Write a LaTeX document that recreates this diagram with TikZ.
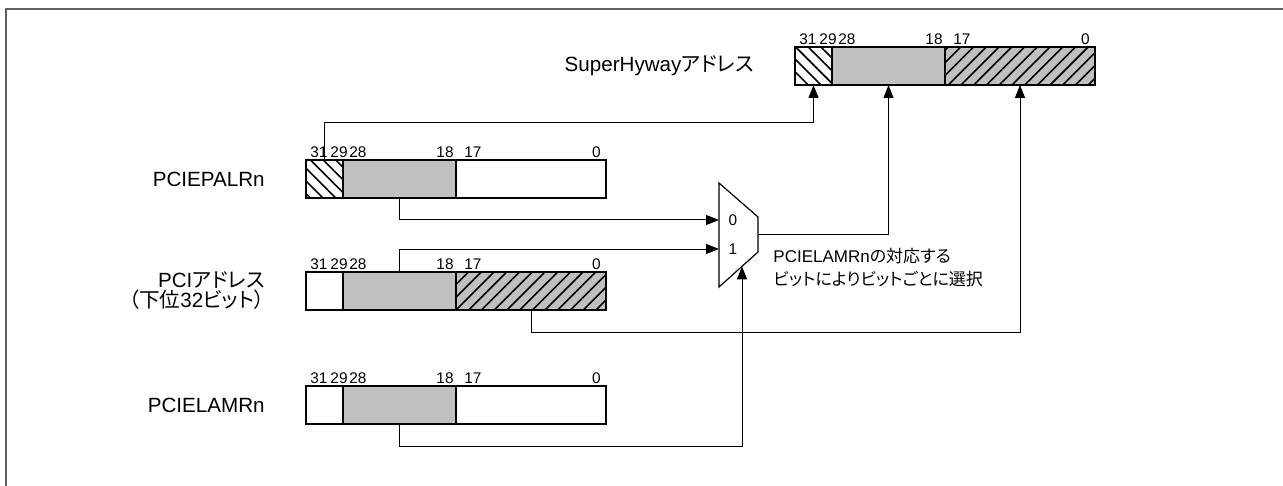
\documentclass[tikz,border=0pt]{standalone}
\usepackage{fontspec}
\setmainfont{Liberation Sans}
\newfontfamily\jpfont[RawFeature=+palt]{Noto Sans CJK JP}
\usetikzlibrary{arrows.meta,positioning,patterns.meta}
\definecolor{fieldgray}{RGB}{192,192,192}
\definecolor{framegray}{RGB}{96,96,96}
\newcommand{\jp}[1]{{\jpfont #1}}

\begin{document}
\begin{tikzpicture}[
  x=0.5pt, y=-0.5pt,
  node distance=0pt and 20.5pt,
  fld/.style   ={draw,line width=0.7pt,minimum height=19pt,inner sep=0pt,outer sep=0pt},
  hifld/.style ={fld,minimum width=18.5pt},
  midfld/.style={fld,minimum width=56.5pt,fill=fieldgray},
  lofld/.style ={fld,minimum width=75pt},
  bslash/.style={postaction={pattern={Lines[angle=-45,distance=4.5pt,line width=0.8pt]}}},
  fslash/.style={fill=fieldgray,postaction={pattern={Lines[angle=45,distance=4.5pt,line width=0.8pt]}}},
  bit/.style   ={font=\fontsize{7.7}{8}\selectfont,inner sep=1pt},
  regname/.style={font=\fontsize{10.3}{12}\selectfont,align=right,inner sep=0pt},
  note/.style  ={font=\fontsize{8.5}{11.5}\selectfont,align=left,inner sep=0pt},
  arrow/.style ={-{Triangle[length=6.5pt,width=5pt]},line width=0.5pt},
]
\useasboundingbox (0,0) rectangle (1283,486);
\draw[framegray,line width=1.2pt] (6,486) -- (6,9) -- (1283,9);

% registers
\node[hifld,bslash,anchor=north west] (sh-hi) at (795,47) {};
\node[midfld,right=0pt of sh-hi]  (sh-mid) {};
\node[lofld,fslash,right=0pt of sh-mid] (sh-lo) {};
\node[regname,left=of sh-hi]  (sh-name) {SuperHyway\jp{アドレス}};

\node[hifld,bslash,anchor=north west] (pal-hi) at (306,160) {};
\node[midfld,right=0pt of pal-hi] (pal-mid) {};
\node[lofld,right=0pt of pal-mid] (pal-lo) {};
\node[regname,left=of pal-hi] (pal-name) {PCIEPALRn};

\node[hifld,anchor=north west] (pci-hi) at (306,272) {};
\node[midfld,right=0pt of pci-hi] (pci-mid) {};
\node[lofld,fslash,right=0pt of pci-mid] (pci-lo) {};
\node[regname,left=of pci-hi] (pci-name) {PCI\jp{アドレス}\\[-2pt]\jp{（下位}32\jp{ビット）}};

\node[hifld,anchor=north west] (lam-hi) at (306,386) {};
\node[midfld,right=0pt of lam-hi] (lam-mid) {};
\node[lofld,right=0pt of lam-mid] (lam-lo) {};
\node[regname,left=of lam-hi] (lam-name) {PCIELAMRn};

% bit numbers
\foreach \r in {sh,pal,pci,lam}{
  \node[bit,anchor=south west] (\r-b31) at ([xshift=1pt]\r-hi.north west) {31};
  \node[bit,anchor=south]      (\r-b29) at ([xshift=-2pt]\r-hi.north east) {29};
  \node[bit,anchor=south west] (\r-b28) at ([xshift=2pt]\r-mid.north west) {28};
  \node[bit,anchor=south east] (\r-b18) at (\r-mid.north east) {18};
  \node[bit,anchor=south west] (\r-b17) at ([xshift=3pt]\r-lo.north west) {17};
  \node[bit,anchor=south east] (\r-b0)  at ([xshift=-1.5pt]\r-lo.north east) {0};
}

% selector
\coordinate (mux-tl) at (719,183);
\coordinate (mux-tr) at (758,217);
\coordinate (mux-br) at (758,252);
\coordinate (mux-bl) at (719,287);
\coordinate (mux-in0) at (719,220);
\coordinate (mux-in1) at (719,249);
\coordinate (mux-out) at (758,234.5);
\coordinate (mux-sel) at (742,266.4);
\draw[line width=0.6pt] (mux-tl) -- (mux-tr) -- (mux-br) -- (mux-bl) -- cycle;
\node[font=\fontsize{7.7}{9}\selectfont] (mux-l0) at (733,220) {0};
\node[font=\fontsize{7.7}{9}\selectfont] (mux-l1) at (733,249) {1};
\node[note,anchor=north west] (selnote) at (773,248)
  {PCIELAMRn\jp{の対応する}\\\jp{ビットによりビットごとに選択}};

% connections
\draw[arrow] (pal-hi.north) -- ++(0,-37) -| (sh-hi.south);
\draw[arrow] (pal-mid.south) |- (mux-in0);
\draw[arrow] (pci-mid.north) |- (mux-in1);
\draw[arrow] (mux-out) -| (sh-mid.south);
\draw[arrow] (pci-lo.south) -- ++(0,22) -| (sh-lo.south);
\draw[arrow] (lam-mid.south) -- ++(0,22) -| (mux-sel);
\end{tikzpicture}
\end{document}
